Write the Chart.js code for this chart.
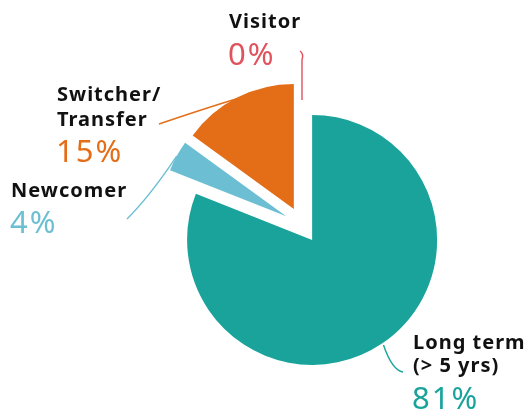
<!DOCTYPE html>
<html><head><meta charset="utf-8">
<script src="https://cdn.jsdelivr.net/npm/chart.js@4.4.1/dist/chart.umd.min.js"></script>
<style>html,body{margin:0;padding:0;background:#fff;overflow:hidden}</style>
</head><body>
<canvas id="c" width="526" height="410"></canvas>
<script>
// ---- data ----
const categories = ["Long term (> 5 yrs)", "Newcomer", "Switcher/Transfer", "Visitor"];
const values = [81, 4, 15, 0];
const percentLabels = ["81%", "4%", "15%", "0%"];
const nameLines = [["Long term", "(> 5 yrs)"], ["Newcomer"], ["Switcher/", "Transfer"], ["Visitor"]];

// ---- style / layout ----
const colors = ["#19a39b", "#6cbfd3", "#e46e18", "#e0525c"];
const explode = 18;
const labelLayout = [
  {x: 413, nameY: [349, 372], pctY: 409, start: 2,   ctrl: [392, 370], end: [403, 372]},
  {x: 11,  nameY: [197],      pctY: 233, start: 0,   ctrl: [150, 196], end: [127, 219]},
  {x: 57,  nameY: [101, 126], pctY: 162, start: -1,  ctrl: [200, 110], end: [159, 124]},
  {x: 229, nameY: [28],       pctY: 65,  start: -18, ctrl: [304, 54],  end: [300, 51]}
];

const explodePlugin = {
  id: 'explode',
  afterDatasetsUpdate(chart) {
    chart.getDatasetMeta(0).data.forEach(el => {
      const mid = (el.startAngle + el.endAngle) / 2;
      el.x += Math.cos(mid) * explode;
      el.y += Math.sin(mid) * explode;
    });
  }
};

const labelPlugin = {
  id: 'labels',
  afterDraw(chart) {
    const ctx = chart.ctx;
    const arcs = chart.getDatasetMeta(0).data;
    arcs.forEach((el, i) => {
      const L = labelLayout[i];
      const mid = (el.startAngle + el.endAngle) / 2;
      const r = el.outerRadius + L.start;
      const ax = el.x + Math.cos(mid) * r;
      const ay = el.y + Math.sin(mid) * r;
      ctx.save();
      ctx.strokeStyle = colors[i];
      ctx.lineWidth = 1.4;
      ctx.beginPath();
      if (i === 3) {
        ctx.moveTo(ax, ay);
        ctx.lineTo(ax, 60);
        ctx.quadraticCurveTo(L.ctrl[0], L.ctrl[1], L.end[0], L.end[1]);
      } else {
        ctx.moveTo(ax, ay);
        ctx.quadraticCurveTo(L.ctrl[0], L.ctrl[1], L.end[0], L.end[1]);
      }
      ctx.stroke();
      ctx.textAlign = 'left';
      ctx.textBaseline = 'alphabetic';
      ctx.fillStyle = '#111';
      ctx.font = 'bold 20px "Noto Sans"';
      ctx.letterSpacing = '1px';
      nameLines[i].forEach((t, k) => ctx.fillText(t, L.x, L.nameY[k]));
      ctx.fillStyle = colors[i];
      ctx.font = '31px "Noto Sans"';
      ctx.letterSpacing = '2px';
      ctx.fillText(percentLabels[i], L.x - 1, L.pctY);
      ctx.restore();
    });
  }
};

new Chart(document.getElementById('c'), {
  type: 'pie',
  data: {
    labels: categories,
    datasets: [{
      data: values,
      backgroundColor: colors,
      borderWidth: 0,
      radius: 125
    }]
  },
  options: {
    responsive: false,
    animation: false,
    events: [],
    layout: {padding: {left: 78, right: 0, top: 40, bottom: 0}},
    plugins: {legend: {display: false}, tooltip: {enabled: false}}
  },
  plugins: [explodePlugin, labelPlugin]
});
</script>
</body></html>
